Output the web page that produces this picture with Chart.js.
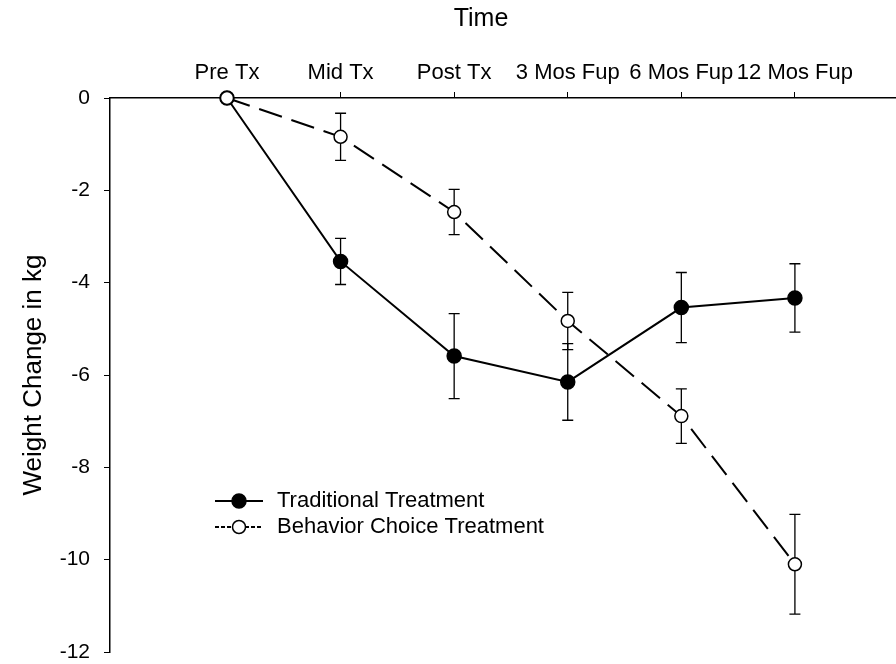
<!DOCTYPE html>
<html>
<head>
<meta charset="utf-8">
<script src="https://cdn.jsdelivr.net/npm/chart.js@4"></script>
<style>
  html, body { margin: 0; padding: 0; background: #fff; overflow: hidden; }
  #wrap { width: 896px; height: 664px; }
  canvas { display: block; }
</style>
</head>
<body>
<div id="wrap"><canvas id="myChart" width="896" height="664"></canvas></div>
<script>
// data
const categories = ['Pre Tx', 'Mid Tx', 'Post Tx', '3 Mos Fup', '6 Mos Fup', '12 Mos Fup'];
const traditional = [0, -3.54, -5.59, -6.15, -4.54, -4.33];
const traditionalErr = [0, 0.50, 0.92, 0.83, 0.76, 0.74];
const behavior = [0, -0.84, -2.47, -4.83, -6.89, -10.10];
const behaviorErr = [0, 0.51, 0.49, 0.62, 0.59, 1.08];

const FONT = "'Liberation Sans', Arial, sans-serif";

function toPoints(vals) {
    return vals.map((v, i) => ({ x: i, y: v }));
}

// vertical error bars with caps, drawn under the markers
const errorBars = {
    id: 'errorBars',
    beforeDatasetsDraw(chart) {
        const ctx = chart.ctx;
        const x = chart.scales.x;
        const y = chart.scales.y;
        ctx.save();
        ctx.strokeStyle = '#000';
        ctx.lineWidth = 1.3;
        chart.data.datasets.forEach(ds => {
            ds.data.forEach((p, i) => {
                const e = ds.errors[i];
                if (!e) return;
                const px = x.getPixelForValue(p.x);
                const top = y.getPixelForValue(p.y + e);
                const bot = y.getPixelForValue(p.y - e);
                ctx.beginPath();
                ctx.moveTo(px, top);
                ctx.lineTo(px, bot);
                ctx.moveTo(px - 5.5, top);
                ctx.lineTo(px + 5.5, top);
                ctx.moveTo(px - 5.5, bot);
                ctx.lineTo(px + 5.5, bot);
                ctx.stroke();
            });
        });
        ctx.restore();
    }
};

// legend inside the plot, bottom left, plus the "Time" heading
const innerLegend = {
    id: 'innerLegend',
    afterDraw(chart) {
        const ctx = chart.ctx;
        const x0 = 215, x1 = 263, tx = 277;
        let ty = 501;
        ctx.save();
        ctx.fillStyle = '#000';
        ctx.font = '25px ' + FONT;
        ctx.textAlign = 'center';
        ctx.textBaseline = 'middle';
        ctx.fillText('Time', 481, 19);

        chart.data.datasets.forEach(ds => {
            ctx.strokeStyle = '#000';
            ctx.lineWidth = 2;
            ctx.setLineDash(ds.borderDash && ds.borderDash.length ? [4, 2] : []);
            ctx.beginPath();
            ctx.moveTo(x0, ty);
            ctx.lineTo(x1, ty);
            ctx.stroke();
            ctx.setLineDash([]);
            ctx.beginPath();
            ctx.arc((x0 + x1) / 2, ty, ds.pointRadius, 0, Math.PI * 2);
            ctx.fillStyle = ds.pointBackgroundColor;
            ctx.fill();
            ctx.lineWidth = ds.pointBorderWidth;
            ctx.stroke();
            ctx.fillStyle = '#000';
            ctx.font = '22px ' + FONT;
            ctx.textBaseline = 'middle';
            ctx.textAlign = 'left';
            ctx.fillText(ds.label, tx, ty);
            ty += 26;
        });
        ctx.restore();
    }
};

const ctx = document.getElementById('myChart').getContext('2d');
const myChart = new Chart(ctx, {
    type: 'line',
    data: {
        datasets: [{
            label: 'Traditional Treatment',
            data: toPoints(traditional),
            errors: traditionalErr,
            borderColor: '#000',
            borderWidth: 2,
            pointRadius: 7,
            pointBackgroundColor: '#000',
            pointBorderColor: '#000',
            pointBorderWidth: 1.5,
            clip: false,
            order: 1
        }, {
            label: 'Behavior Choice Treatment',
            data: toPoints(behavior),
            errors: behaviorErr,
            borderColor: '#000',
            borderWidth: 2,
            borderDash: [24, 10],
            pointRadius: 6.5,
            pointBackgroundColor: '#fff',
            pointBorderColor: '#000',
            pointBorderWidth: 1.5,
            clip: false,
            order: 0
        }]
    },
    options: {
        responsive: false,
        animation: false,
        devicePixelRatio: 1,
        layout: {
            autoPadding: false,
            padding: { left: 0, right: 0, top: 0, bottom: 12 }
        },
        plugins: {
            legend: { display: false },
            tooltip: { enabled: false }
        },
        scales: {
            x: {
                type: 'linear',
                position: 'top',
                min: -1.03,
                max: 5.89,
                afterBuildTicks(scale) {
                    scale.ticks = categories.map((c, i) => ({ value: i }));
                },
                afterFit(scale) {
                    scale.height = 98;
                    scale.paddingLeft = 0;
                    scale.paddingRight = 0;
                },
                ticks: {
                    color: '#000',
                    font: { family: FONT, size: 22 },
                    padding: 6,
                    maxRotation: 0,
                    callback: v => categories[v]
                },
                grid: {
                    drawOnChartArea: false,
                    drawTicks: true,
                    tickLength: 6,
                    color: '#000'
                },
                border: { display: true, color: '#000', width: 1.5 }
            },
            y: {
                min: -12,
                max: 0,
                afterFit(scale) {
                    scale.width = 110;
                    scale.paddingTop = 0;
                    scale.paddingBottom = 0;
                },
                ticks: {
                    stepSize: 2,
                    color: '#000',
                    font: { family: FONT, size: 21 },
                    padding: 14
                },
                grid: {
                    drawOnChartArea: false,
                    drawTicks: true,
                    tickLength: 6,
                    color: '#000'
                },
                border: { display: true, color: '#000', width: 1.5 },
                title: {
                    display: true,
                    text: 'Weight Change in kg',
                    color: '#000',
                    font: { family: FONT, size: 26 },
                    padding: { top: 18, bottom: 0 }
                }
            }
        }
    },
    plugins: [errorBars, innerLegend]
});
</script>
</body>
</html>
